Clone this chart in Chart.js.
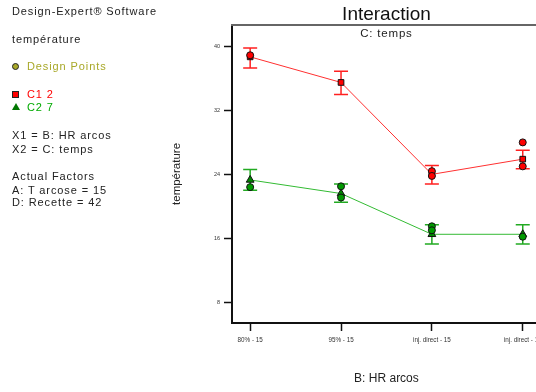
<!DOCTYPE html>
<html>
<head>
<meta charset="utf-8">
<script src="https://cdn.jsdelivr.net/npm/chart.js@4/dist/chart.umd.min.js"></script>
<style>
  body { margin: 0; background: #fff; overflow: hidden; }
  #wrap { position: relative; width: 536px; height: 392px; overflow: hidden; }
  #chart { position: absolute; left: 0; top: 0; }
  .side { position: absolute; left: 12px; font-family: "Liberation Sans", Arial, sans-serif; font-size: 11px; letter-spacing: 0.9px; color: #222; white-space: nowrap; line-height: 12px; }
  .mk { position: absolute; left: -9px; top: 3px; }
  .dot { width: 5px; height: 5px; border-radius: 50%; border: 1px solid #222; }
  .sq { width: 5px; height: 5px; border: 1px solid #222; background: #ff0000; }
  .tri { width: 0; height: 0; border-left: 4px solid transparent; border-right: 4px solid transparent; border-bottom: 7px solid #007700; top: 2px; }
</style>
</head>
<body>
<div id="wrap">
  <canvas id="chart" width="547" height="392"></canvas>
  <div class="side" style="top:5px">Design-Expert® Software</div>
  <div class="side" style="top:33px">température</div>
  <div class="side" style="top:60px; left:27px; color:#a8a828"><span class="mk dot" style="left:-15px; background:#a8a828"></span>Design Points</div>
  <div class="side" style="top:88px; left:27px; color:#ff0000"><span class="mk sq" style="left:-15px"></span>C1 2</div>
  <div class="side" style="top:101px; left:27px; color:#00aa00"><span class="mk tri" style="left:-15px"></span>C2 7</div>
  <div class="side" style="top:129px">X1 = B: HR arcos</div>
  <div class="side" style="top:143px">X2 = C: temps</div>
  <div class="side" style="top:170px">Actual Factors</div>
  <div class="side" style="top:184px">A: T arcose = 15</div>
  <div class="side" style="top:196px">D: Recette = 42</div>
</div>
<script>
// categories on the x axis (B: HR arcos)
const categories = ["80% - 15", "95% - 15", "inj. direct - 15", "inj. direct - 15"];
const yTicks = [8, 16, 24, 32, 40];

// C1 2 (red)
const c12Mean = [38.7, 35.5, 24.0, 25.9];
const c12Low = [37.3, 34.0, 22.8, 24.7];
const c12High = [39.8, 36.9, 25.1, 27.0];
const c12DesignX = [0, 2, 2, 3, 3];
const c12DesignY = [38.9, 24.4, 23.8, 28.0, 25.0];

// C2 7 (green)
const c27Mean = [23.3, 21.6, 16.5, 16.5];
const c27Low = [22.0, 20.5, 15.3, 15.3];
const c27High = [24.6, 22.8, 17.7, 17.7];
const c27DesignX = [0, 1, 1, 2, 2, 3];
const c27DesignY = [22.4, 22.5, 21.1, 17.5, 17.0, 16.2];

const toPts = (xs, ys) => xs.map((x, i) => ({ x: x, y: ys[i] }));
const meanPts = (ys) => ys.map((y, i) => ({ x: i, y: y }));

// error bars drawn from the scales
const errorBars = {
  id: "errorBars",
  beforeDatasetsDraw(chart) {
    const ctx = chart.ctx;
    const xs = chart.scales.x;
    const ys = chart.scales.y;
    const sets = [
      { lo: c12Low, hi: c12High, color: "#ff2020" },
      { lo: c27Low, hi: c27High, color: "#22aa22" },
    ];
    ctx.save();
    sets.forEach((s) => {
      ctx.strokeStyle = s.color;
      ctx.lineWidth = 1.5;
      s.lo.forEach((lo, i) => {
        const px = xs.getPixelForValue(i);
        const yl = ys.getPixelForValue(lo);
        const yh = ys.getPixelForValue(s.hi[i]);
        ctx.beginPath();
        ctx.moveTo(px, yl); ctx.lineTo(px, yh);
        ctx.moveTo(px - 7, yl); ctx.lineTo(px + 7, yl);
        ctx.moveTo(px - 7, yh); ctx.lineTo(px + 7, yh);
        ctx.stroke();
      });
    });
    ctx.restore();
  },
  afterDraw(chart) {
    // top frame line and subtitle inside the plot
    const ctx = chart.ctx;
    const a = chart.chartArea;
    ctx.save();
    ctx.strokeStyle = "#666";
    ctx.lineWidth = 2;
    ctx.beginPath();
    ctx.moveTo(a.left - 1, a.top);
    ctx.lineTo(a.right, a.top);
    ctx.stroke();
    ctx.fillStyle = "#222";
    ctx.font = '11.5px "Liberation Sans", Arial, sans-serif';
    ctx.letterSpacing = "0.8px";
    ctx.textAlign = "center";
    ctx.textBaseline = "middle";
    ctx.fillText("C: temps", (a.left + a.right) / 2, a.top + 9);
    ctx.restore();
  },
};

new Chart(document.getElementById("chart"), {
  type: "scatter",
  data: {
    datasets: [
      {
        label: "C1 2 points",
        data: toPts(c12DesignX, c12DesignY),
        backgroundColor: "#ff0000",
        borderColor: "#111",
        borderWidth: 1,
        pointRadius: 3.5,
        pointStyle: "circle",
      },
      {
        label: "C2 7 points",
        data: toPts(c27DesignX, c27DesignY),
        backgroundColor: "#009900",
        borderColor: "#111",
        borderWidth: 1,
        pointRadius: 3.5,
        pointStyle: "circle",
      },
      {
        label: "C1 2",
        data: meanPts(c12Mean),
        showLine: true,
        borderColor: "#ff3030",
        borderWidth: 1,
        pointBackgroundColor: "#ff0000",
        pointBorderColor: "#111",
        pointBorderWidth: 1,
        pointRadius: 4,
        pointStyle: "rect",
      },
      {
        label: "C2 7",
        data: meanPts(c27Mean),
        showLine: true,
        borderColor: "#33bb33",
        borderWidth: 1,
        pointBackgroundColor: "#008800",
        pointBorderColor: "#111",
        pointBorderWidth: 1,
        pointRadius: 4.5,
        pointStyle: "triangle",
      },
    ],
  },
  options: {
    responsive: false,
    devicePixelRatio: 1,
    animation: false,
    layout: { padding: { left: 170, right: 0, top: 0, bottom: 0 } },
    plugins: {
      legend: { display: false },
      tooltip: { enabled: false },
      title: {
        display: true,
        text: "Interaction",
        fullSize: false,
        color: "#111",
        font: { family: '"Liberation Sans", Arial, sans-serif', size: 19, weight: "normal", lineHeight: 1.1 },
        padding: { top: 4, bottom: 0 },
      },
    },
    scales: {
      x: {
        type: "linear",
        min: -0.2,
        max: 3.2,
        afterBuildTicks: (axis) => { axis.ticks = categories.map((c, i) => ({ value: i })); },
        afterFit: (axis) => { axis.height = 69; },
        ticks: {
          callback: (v) => categories[v],
          color: "#333",
          font: { family: '"Liberation Sans", Arial, sans-serif', size: 6.3 },
          padding: 5,
          maxRotation: 0,
          autoSkip: false,
        },
        grid: { drawOnChartArea: false, color: "#111", tickLength: 8, tickWidth: 1.5 },
        border: { color: "#111", width: 2 },
        title: {
          display: true,
          text: "B: HR arcos",
          color: "#222",
          font: { family: '"Liberation Sans", Arial, sans-serif', size: 12 },
          padding: { top: 0, bottom: 6 },
        },
      },
      y: {
        min: 5.4,
        max: 42.7,
        afterBuildTicks: (axis) => { axis.ticks = yTicks.map((v) => ({ value: v })); },
        afterFit: (axis) => { axis.width = 62; },
        ticks: {
          color: "#333",
          font: { family: '"Liberation Sans", Arial, sans-serif', size: 5.5 },
          padding: 4,
        },
        grid: { drawOnChartArea: false, color: "#111", tickLength: 8, tickWidth: 1.5 },
        border: { color: "#111", width: 2 },
        title: {
          display: true,
          text: "température",
          color: "#222",
          font: { family: '"Liberation Sans", Arial, sans-serif', size: 11.5 },
          padding: { top: 0, bottom: 0 },
        },
      },
    },
  },
  plugins: [errorBars],
});
</script>
</body>
</html>
